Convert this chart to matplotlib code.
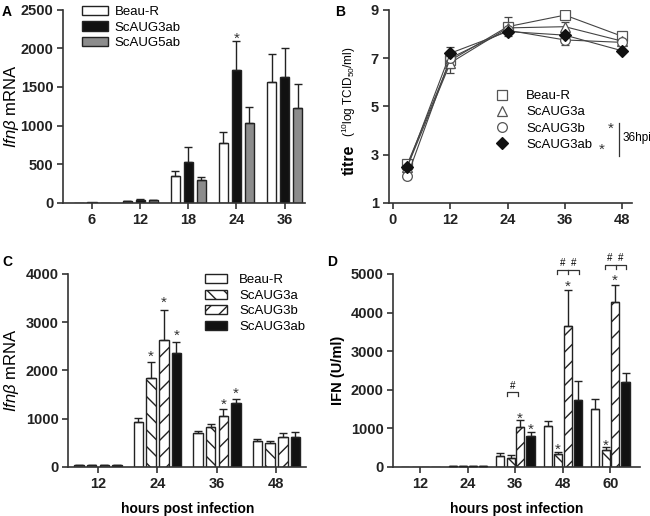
import numpy as np
import matplotlib
matplotlib.use("Agg")
import matplotlib.pyplot as plt
from matplotlib.lines import Line2D

# ---- data ----
hpi_a = ["6", "12", "18", "24", "36"]
beau_a = [2, 20, 350, 770, 1560]
beau_a_err = [0, 5, 65, 145, 365]
aug3ab_a = [4, 35, 530, 1720, 1630]
aug3ab_a_err = [0, 10, 190, 370, 370]
aug5ab_a = [3, 30, 290, 1030, 1230]
aug5ab_a_err = [0, 5, 50, 210, 315]

hpi_b = [3, 12, 24, 36, 48]
beau_b = [2.6, 6.9, 8.3, 8.78, 7.9]
beau_b_err = [0.1, 0.3, 0.4, 0.15, 0.1]
aug3a_b = [2.5, 6.8, 8.25, 8.3, 7.7]
aug3a_b_err = [0.1, 0.4, 0.2, 0.2, 0.1]
aug3b_b = [2.1, 7.0, 8.15, 7.75, 7.65]
aug3b_b_err = [0.1, 0.3, 0.15, 0.2, 0.1]
aug3ab_b = [2.5, 7.2, 8.1, 7.95, 7.3]
aug3ab_b_err = [0.1, 0.25, 0.1, 0.1, 0.05]

hpi_c = ["12", "24", "36", "48"]
beau_c = [40, 940, 700, 540]
beau_c_err = [5, 80, 40, 40]
aug3a_c = [40, 1850, 820, 490]
aug3a_c_err = [5, 320, 70, 50]
aug3b_c = [40, 2640, 1050, 620]
aug3b_c_err = [5, 620, 160, 80]
aug3ab_c = [40, 2360, 1320, 630]
aug3ab_c_err = [5, 240, 80, 100]

hpi_d = ["12", "24", "36", "48", "60"]
beau_d = [0, 15, 280, 1050, 1510]
beau_d_err = [0, 5, 70, 130, 250]
aug3a_d = [0, 20, 240, 330, 430]
aug3a_d_err = [0, 5, 70, 70, 90]
aug3b_d = [0, 25, 1030, 3650, 4270]
aug3b_d_err = [0, 5, 180, 930, 450]
aug3ab_d = [0, 30, 790, 1740, 2200]
aug3ab_d_err = [0, 5, 120, 480, 240]

plt.rcParams["font.family"] = ["Liberation Sans", "DejaVu Sans"]
plt.rcParams["font.size"] = 9
plt.rcParams["mathtext.fontset"] = "custom"
plt.rcParams["mathtext.rm"] = "Liberation Sans"
plt.rcParams["mathtext.it"] = "Liberation Sans:italic"
plt.rcParams["mathtext.bf"] = "Liberation Sans:bold"
plt.rcParams["hatch.linewidth"] = 1.0
plt.rcParams["axes.linewidth"] = 1.2

EDGE = "#222222"
SPINE = "#333333"
WHITE = "white"
BLACK = "#111111"
GRAY = "#8c8c8c"


def style_axes(ax):
    for s in ["top", "right"]:
        ax.spines[s].set_visible(False)
    for s in ["left", "bottom"]:
        ax.spines[s].set_color(SPINE)
    ax.tick_params(direction="out", length=4, width=1.2, color=SPINE, labelsize=10.5, pad=3)
    for lab in ax.get_xticklabels() + ax.get_yticklabels():
        lab.set_fontweight("bold")
        lab.set_color("#222222")


def bars(ax, x, vals, errs, color, hatch=None, width=0.18, label=None):
    ax.bar(x, vals, width=width, color=color, edgecolor=EDGE, linewidth=1.0,
           hatch=hatch, label=label, zorder=2)
    vals = np.asarray(vals, float)
    errs = np.asarray(errs, float)
    keep = errs > 0
    ax.errorbar(np.asarray(x)[keep], vals[keep], yerr=[np.zeros(keep.sum()), errs[keep]],
                fmt="none", ecolor=EDGE, elinewidth=1.0, capsize=3, capthick=1.0, zorder=3)


def star(ax, x, y):
    ax.annotate("*", (x, y), xytext=(0, -4), textcoords="offset points",
                ha="center", va="center", fontsize=11, color="#333333",
                annotation_clip=False)


fig = plt.figure(figsize=(6.5, 5.16), dpi=100)

# ---- panel A ----
axA = fig.add_axes([0.097, 0.607, 0.372, 0.374])
xa = np.arange(len(hpi_a))
bars(axA, xa - 0.27, beau_a, beau_a_err, WHITE, width=0.19, label="Beau-R")
bars(axA, xa, aug3ab_a, aug3ab_a_err, BLACK, width=0.19, label="ScAUG3ab")
bars(axA, xa + 0.27, aug5ab_a, aug5ab_a_err, GRAY, width=0.19, label="ScAUG5ab")
axA.set_xlim(-0.6, 4.42)
axA.set_ylim(0, 2500)
axA.set_yticks([0, 500, 1000, 1500, 2000, 2500])
axA.set_xticks(xa)
axA.set_xticklabels(hpi_a)
star(axA, 3, 2200)
axA.legend(loc="upper left", bbox_to_anchor=(0.078, 1.02), frameon=False, fontsize=9.5,
           handlelength=2.0, handletextpad=0.5, labelspacing=0.25, borderpad=0, borderaxespad=0)
axA.set_ylabel(r"$\mathit{Ifn\beta}$ mRNA", fontsize=12)
axA.yaxis.set_label_coords(-0.175, 0.5)
style_axes(axA)

# ---- panel B ----
axB = fig.add_axes([0.598, 0.607, 0.374, 0.374])
series_b = [
    (beau_b, beau_b_err, "s", WHITE, "#555555", 7, "Beau-R"),
    (aug3a_b, aug3a_b_err, "^", WHITE, "#555555", 7, "ScAUG3a"),
    (aug3b_b, aug3b_b_err, "o", WHITE, "#555555", 7, "ScAUG3b"),
    (aug3ab_b, aug3ab_b_err, "D", BLACK, BLACK, 6, "ScAUG3ab"),
]
handles = []
for vals, errs, mk, fc, ec, ms, lab in series_b:
    axB.errorbar(hpi_b, vals, yerr=errs, fmt="none", ecolor="#444444", elinewidth=0.9,
                 capsize=3, capthick=0.9, zorder=2)
    axB.plot(hpi_b, vals, color="#444444", lw=0.8, marker=mk, mfc=fc, mec=ec, ms=ms,
             mew=0.9, zorder=3)
    handles.append(Line2D([], [], ls="none", marker=mk, mfc=fc, mec=ec, ms=ms, mew=0.9, label=lab))
axB.set_xlim(-0.9, 50)
axB.set_ylim(1, 9)
axB.set_xticks([0, 12, 24, 36, 48])
axB.set_yticks([1, 3, 5, 7, 9])
axB.legend(handles=handles, loc="upper left", bbox_to_anchor=(0.44, 0.585), frameon=False,
           fontsize=9.5, handlelength=1.0, handletextpad=1.3, labelspacing=0.3,
           borderpad=0, borderaxespad=0)
axB.text(0.915, 0.383, "*", transform=axB.transAxes, ha="center", va="center", fontsize=11, color="#333333")
axB.text(0.878, 0.275, "*", transform=axB.transAxes, ha="center", va="center", fontsize=11, color="#333333")
axB.plot([0.948, 0.948], [0.245, 0.415], transform=axB.transAxes, color="#333333", lw=0.9, clip_on=False)
axB.text(0.962, 0.335, "36hpi", transform=axB.transAxes, ha="left", va="center", fontsize=8.5)
style_axes(axB)
fig.text(0.537, 0.690, "titre", rotation=90, ha="center", va="center", fontsize=11.5, fontweight="bold")
fig.text(0.537, 0.822, r"($^{10}$log TCID$_{50}$/ml)", rotation=90, ha="center", va="center", fontsize=8.5)

# ---- panel C ----
axC = fig.add_axes([0.105, 0.095, 0.366, 0.374])
xc = np.arange(len(hpi_c))
bars(axC, xc - 0.32, beau_c, beau_c_err, WHITE, width=0.16, label="Beau-R")
bars(axC, xc - 0.107, aug3a_c, aug3a_c_err, WHITE, hatch="\\\\", width=0.16, label="ScAUG3a")
bars(axC, xc + 0.107, aug3b_c, aug3b_c_err, WHITE, hatch="//", width=0.16, label="ScAUG3b")
bars(axC, xc + 0.32, aug3ab_c, aug3ab_c_err, BLACK, width=0.16, label="ScAUG3ab")
axC.set_xlim(-0.5, 3.5)
axC.set_ylim(0, 4000)
axC.set_yticks([0, 1000, 2000, 3000, 4000])
axC.set_xticks(xc)
axC.set_xticklabels(hpi_c)
for x, y in [(1 - 0.107, 2390), (1 + 0.107, 3510), (1 + 0.32, 2840), (2 + 0.107, 1400), (2 + 0.32, 1630)]:
    star(axC, x, y)
axC.legend(loc="upper left", bbox_to_anchor=(0.575, 1.0), frameon=False, fontsize=9.5,
           handlelength=1.7, handletextpad=0.9, labelspacing=0.25, borderpad=0, borderaxespad=0)
axC.set_ylabel(r"$\mathit{Ifn\beta}$ mRNA", fontsize=12)
axC.yaxis.set_label_coords(-0.198, 0.5)
axC.set_xlabel("hours post infection", fontsize=10, fontweight="bold", labelpad=8)
style_axes(axC)

# ---- panel D ----
axD = fig.add_axes([0.605, 0.095, 0.38, 0.374])
xd = np.arange(len(hpi_d))
bars(axD, xd - 0.32, beau_d, beau_d_err, WHITE, width=0.17)
bars(axD, xd - 0.1, aug3a_d, aug3a_d_err, WHITE, hatch="\\\\", width=0.17)
bars(axD, xd + 0.1, aug3b_d, aug3b_d_err, WHITE, hatch="//", width=0.17)
bars(axD, xd + 0.32, aug3ab_d, aug3ab_d_err, BLACK, width=0.17)
axD.set_xlim(-0.57, 4.63)
axD.set_ylim(0, 5000)
axD.set_yticks([0, 1000, 2000, 3000, 4000, 5000])
axD.set_xticks(xd)
axD.set_xticklabels(hpi_d)
for x, y in [(2.1, 1400), (2.32, 1100), (2.9, 600), (3.1, 4800), (3.9, 700), (4.1, 4980)]:
    star(axD, x, y)
bk = dict(color="#333333", lw=0.9, clip_on=False)
# brackets with "#"
axD.plot([1.83, 1.83, 2.06, 2.06], [1830, 1940, 1940, 1830], **bk)
axD.text(1.94, 2110, "#", ha="center", va="center", fontsize=7)
for g, top in [(3, 5100), (4, 5230)]:
    xs = [g - 0.12, g + 0.11, g + 0.33]
    axD.plot([xs[0], xs[0], xs[2], xs[2]], [top - 110, top, top, top - 110], **bk)
    axD.plot([xs[1], xs[1]], [top, top - 110], **bk)
    axD.text((xs[0] + xs[1]) / 2, top + 190, "#", ha="center", va="center", fontsize=7)
    axD.text((xs[1] + xs[2]) / 2, top + 190, "#", ha="center", va="center", fontsize=7)
axD.set_ylabel("IFN (U/ml)", fontsize=10.5, fontweight="bold", labelpad=4)
axD.set_xlabel("hours post infection", fontsize=10, fontweight="bold", labelpad=8)
style_axes(axD)

# panel letters
for x, y, t in [(0.003, 0.99, "A"), (0.515, 0.99, "B"), (0.003, 0.505, "C"), (0.503, 0.505, "D")]:
    fig.text(x, y, t, ha="left", va="top", fontsize=10, fontweight="bold")

fig.savefig("out.png", dpi=100)
